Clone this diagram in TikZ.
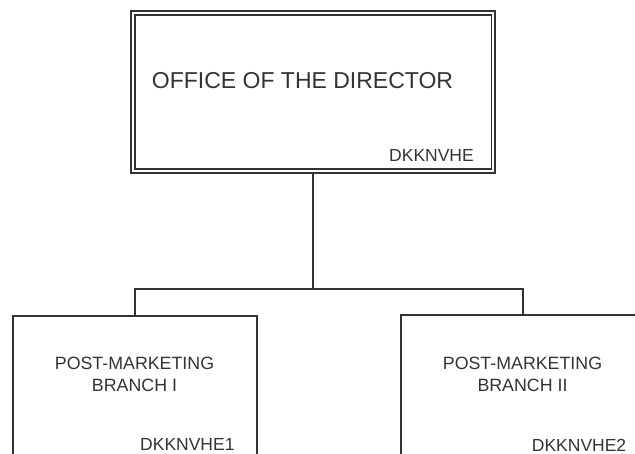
\documentclass[tikz,border=0pt]{standalone}
\usepackage{fontspec}
\setmainfont{Liberation Sans}
\definecolor{ink}{HTML}{333333}
\begin{document}
\begin{tikzpicture}[x=1pt,y=-1pt,
  boxline/.style={draw=ink,line width=1.3pt,inner sep=0pt,fill=none},
  conn/.style={draw=ink,line width=1.3pt},
  txt/.style={text=ink,inner sep=0pt,anchor=base},
  big/.style={font=\fontsize{23}{27}\selectfont},
  mid/.style={font=\fontsize{17.8}{21}\selectfont},
  code/.style={font=\fontsize{17.5}{21}\selectfont}]
\useasboundingbox (0,0) rectangle (635,454);
\clip (0,0) rectangle (635,454);
% top box (double border)
\node[boxline,minimum width=364pt,minimum height=162pt] (top) at (313,92) {};
\node[boxline,minimum width=356.5pt,minimum height=154pt] (topin) at (313.25,92) {};
% lower boxes
\node[boxline,minimum width=244pt,minimum height=184pt] (left) at (135,408) {};
\node[boxline,minimum width=244pt,minimum height=184pt] (right) at (523,407) {};
% connectors
\coordinate (j) at (313,289);
\draw[conn] (top.south) -- (j);
\draw[conn] (left.north) |- (j) -| (right.north);
% texts
\node[txt,big] (t1) at (302.5,89) {OFFICE OF THE DIRECTOR};
\node[txt,code,anchor=base east] (c1) at (474,161.7) {DKKNVHE};
\node[txt,mid] (l1) at (134.5,369.3) {POST-MARKETING};
\node[txt,mid] (l2) at (134.5,391.7) {BRANCH I};
\node[txt,code,anchor=base west] (c2) at (140,450.7) {DKKNVHE1};
\node[txt,mid] (r1) at (522.5,369.3) {POST-MARKETING};
\node[txt,mid] (r2) at (522.5,391.7) {BRANCH II};
\node[txt,code,anchor=base west] (c3) at (531.7,451.5) {DKKNVHE2};
\end{tikzpicture}
\end{document}
